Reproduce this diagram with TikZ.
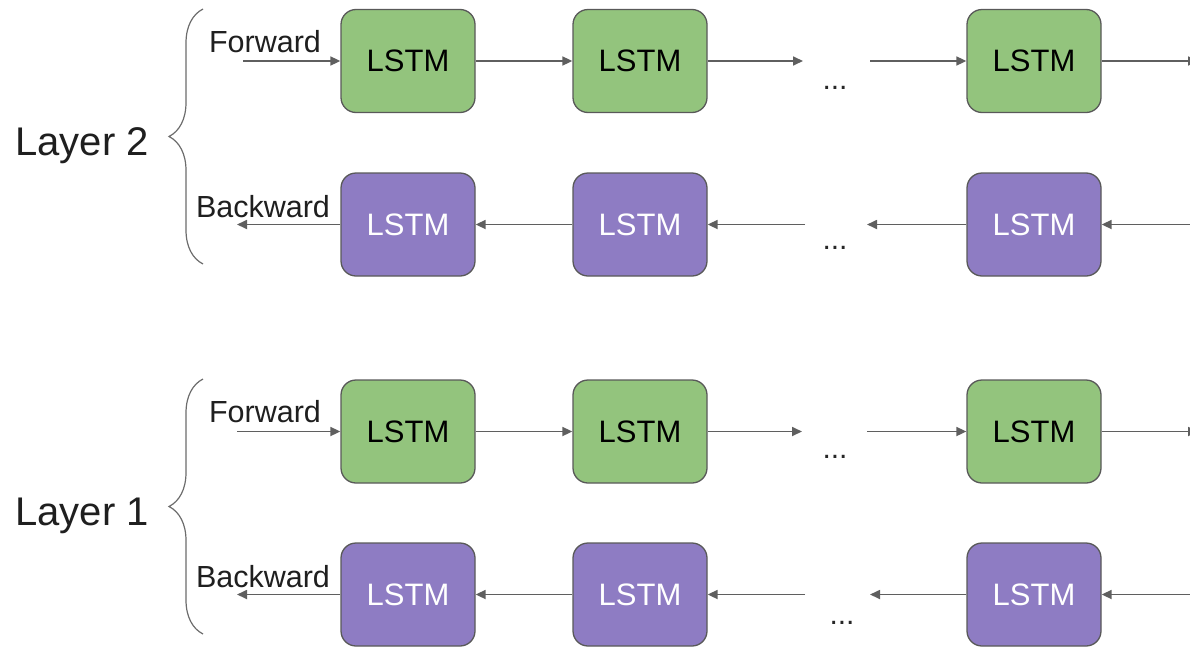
\documentclass[tikz,border=0pt]{standalone}
\usepackage{fontspec}
\setmainfont{Liberation Sans}
\usetikzlibrary{arrows.meta,decorations.pathreplacing}

\definecolor{fwdgreen}{HTML}{93C47D}
\definecolor{bwdpurple}{HTML}{8E7CC3}
\definecolor{edgegray}{HTML}{595959}
\definecolor{inkgray}{HTML}{5F5F5F}

\tikzset{
  cell/.style={draw=edgegray, line width=1.3pt, rounded corners=15pt,
    minimum width=134pt, minimum height=103pt, inner sep=0pt,
    font=\fontsize{31}{31}\selectfont},
  fwdcell/.style={cell, fill=fwdgreen, text=black},
  bwdcell/.style={cell, fill=bwdpurple, text=white},
  flow/.style={draw=inkgray, line width=1.7pt,
    -{Triangle[length=10pt,width=9pt]}},
  dirlabel/.style={font=\fontsize{30.5}{30.5}\selectfont, text=black!88},
  layerlabel/.style={font=\fontsize{40}{40}\selectfont, text=black!88},
  gapdots/.style={font=\fontsize{30}{30}\selectfont, text=black!85},
  curly/.style={draw=gray!85!black, line width=1.2pt,
    decorate, decoration={brace, amplitude=34pt}}
}

\begin{document}
\begin{tikzpicture}[x=1pt,y=-1pt]
  \useasboundingbox (0,0) rectangle (1190,648);
  \clip (0,0) rectangle (1190,648);

  % ---------- Layer 2 ----------
  \node[fwdcell] (f21) at (408,61) {LSTM};
  \node[fwdcell] (f22) at (640,61) {LSTM};
  \node[fwdcell] (f23) at (1034,61) {LSTM};
  \node[bwdcell] (b21) at (408,224.5) {LSTM};
  \node[bwdcell] (b22) at (640,224.5) {LSTM};
  \node[bwdcell] (b23) at (1034,224.5) {LSTM};

  \coordinate (f2in) at (243,61);
  \coordinate (f2gapL) at (803,61);
  \coordinate (f2gapR) at (870,61);
  \coordinate (f2out) at (1198,61);
  \coordinate (b2in) at (1190,224.5);
  \coordinate (b2gapR) at (867,224.5);
  \coordinate (b2gapL) at (805,224.5);
  \coordinate (b2out) at (237,224.5);

  \draw[flow] (f2in) -- (f21.west);
  \draw[flow] (f21.east) -- (f22.west);
  \draw[flow] (f22.east) -- (f2gapL);
  \draw[flow] (f2gapR) -- (f23.west);
  \draw[flow] (f23.east) -- (f2out);

  \draw[flow] (b2in) -- (b23.east);
  \draw[flow] (b23.west) -- (b2gapR);
  \draw[flow] (b2gapL) -- (b22.east);
  \draw[flow] (b22.west) -- (b21.east);
  \draw[flow] (b21.west) -- (b2out);

  \node[gapdots] (d2f) at (835,88) {...};
  \node[gapdots] (d2b) at (835,248) {...};

  \node[dirlabel] (lf2) at (265,42) {Forward};
  \node[dirlabel] (lb2) at (263,207) {Backward};

  \draw[curly] (203,264) -- (203,9);
  \node[layerlabel] (l2) at (82,146) {Layer 2};

  % ---------- Layer 1 ----------
  \node[fwdcell] (f11) at (408,431.5) {LSTM};
  \node[fwdcell] (f12) at (640,431.5) {LSTM};
  \node[fwdcell] (f13) at (1034,431.5) {LSTM};
  \node[bwdcell] (b11) at (408,594.5) {LSTM};
  \node[bwdcell] (b12) at (640,594.5) {LSTM};
  \node[bwdcell] (b13) at (1034,594.5) {LSTM};

  \coordinate (f1in) at (237,431.5);
  \coordinate (f1gapL) at (802,431.5);
  \coordinate (f1gapR) at (867,431.5);
  \coordinate (f1out) at (1198,431.5);
  \coordinate (b1in) at (1190,594.5);
  \coordinate (b1gapR) at (870,594.5);
  \coordinate (b1gapL) at (805,594.5);
  \coordinate (b1out) at (237,594.5);

  \draw[flow] (f1in) -- (f11.west);
  \draw[flow] (f11.east) -- (f12.west);
  \draw[flow] (f12.east) -- (f1gapL);
  \draw[flow] (f1gapR) -- (f13.west);
  \draw[flow] (f13.east) -- (f1out);

  \draw[flow] (b1in) -- (b13.east);
  \draw[flow] (b13.west) -- (b1gapR);
  \draw[flow] (b1gapL) -- (b12.east);
  \draw[flow] (b12.west) -- (b11.east);
  \draw[flow] (b11.west) -- (b1out);

  \node[gapdots] (d1f) at (835,457) {...};
  \node[gapdots] (d1b) at (842,623) {...};

  \node[dirlabel] (lf1) at (265,412) {Forward};
  \node[dirlabel] (lb1) at (263,577) {Backward};

  \draw[curly] (203,634) -- (203,379);
  \node[layerlabel] (l1) at (82,516) {Layer 1};
\end{tikzpicture}
\end{document}
